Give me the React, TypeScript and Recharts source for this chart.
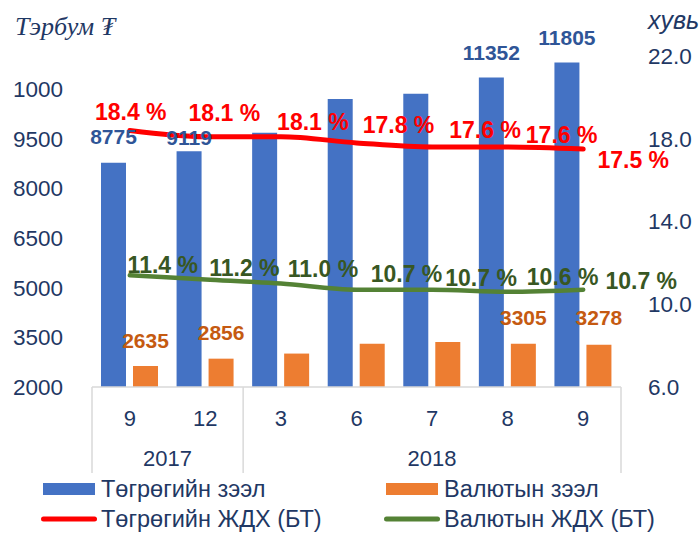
import React from 'react';
import { ComposedChart, Bar, Line, XAxis, YAxis, LabelList } from 'recharts';

// ---- data ----
const months = ['9', '12', '3', '6', '7', '8', '9'];
const years = ['2017', '2017', '2018', '2018', '2018', '2018', '2018'];
const mntLoans = [8775, 9119, 9680, 10700, 10860, 11352, 11805];
const fxLoans = [2635, 2856, 3010, 3310, 3360, 3305, 3278];
const mntRate = [18.4, 18.1, 18.1, 17.8, 17.6, 17.6, 17.5];
const fxRate = [11.4, 11.2, 11.0, 10.7, 10.7, 10.6, 10.7];
const leftTicks = [2000, 3500, 5000, 6500, 8000, 9500, 11000];
const leftTickLabels = ['2000', '3500', '5000', '6500', '8000', '9500', '1000'];
const rightTicks = [6, 10, 14, 18, 22];
const seriesNames = ['Төгрөгийн зээл', 'Валютын зээл', 'Төгрөгийн ЖДХ (БТ)', 'Валютын ЖДХ (БТ)'];
const leftUnit = 'Тэрбум ₮';
const rightUnit = 'хувь';
const labeledBars = [0, 1, 5, 6];

// ---- label nudges (style only) ----
const mntBarLift = [26, 14, 0, 0, 0, 25, 25];
const fxBarLift = [25, 26, 0, 0, 0, 26, 27];
const mntRateNudge = [[1, -18], [19, -24], [32, -15], [42, -18], [53, -17], [54, -12], [50, 11]];
const fxRateNudge = [[33, -10], [39, -11], [42, -15], [50, -16], [49, -12], [55, -15], [58, -9]];

const data = months.map((m, i) => ({
  key: `${years[i]}-${m}-${i}`,
  mnt: mntLoans[i],
  fx: fxLoans[i],
  mntRate: mntRate[i],
  fxRate: fxRate[i],
}));

const W = 699;
const H = 533;
const LEFT_W = 92;
const RIGHT_W = 78;
const TOP = 56;
const XAXIS_H = 146;
const BW = (W - LEFT_W - RIGHT_W) / months.length;
const FONT = '"Liberation Sans", Arial, sans-serif';
const NAVY = '#1F3864';
const GRID = '#D9D9D9';
const BLUE = '#4472C4';
const ORANGE = '#ED7D31';
const RED = '#FF0000';
const GREEN = '#548235';

const vbOf = (p: any) => {
  const vb = p.viewBox || {};
  return {
    x: vb.x ?? p.x,
    y: vb.y ?? p.y,
    width: vb.width ?? p.width ?? 0,
    height: vb.height ?? p.height ?? 0,
  };
};

const barLabel = (lift: number[], color: string) => (p: any) => {
  const i = p.index;
  if (!labeledBars.includes(i)) return null;
  const b = vbOf(p);
  return (
    <text
      x={b.x + b.width / 2}
      y={b.y - lift[i]}
      textAnchor="middle"
      dominantBaseline="central"
      fontFamily={FONT}
      fontWeight="bold"
      fontSize={21}
      fill={color}
    >
      {p.value}
    </text>
  );
};

const lineLabel = (nudge: number[][], color: string) => (p: any) => {
  const i = p.index;
  const b = vbOf(p);
  const v = typeof p.value === 'number' ? p.value : Number(p.value);
  return (
    <text
      x={b.x + nudge[i][0]}
      y={b.y + nudge[i][1]}
      textAnchor="middle"
      dominantBaseline="central"
      fontFamily={FONT}
      fontWeight="bold"
      fontSize={23}
      fill={color}
    >
      {`${v.toFixed(1)} %`}
    </text>
  );
};

function CatTick(props: any) {
  const { x, y, index } = props;
  const i = index;
  const els: any[] = [];
  els.push(
    <text key="m" x={x} y={y + 31} textAnchor="middle" dominantBaseline="central" fontFamily={FONT} fontSize={22} fill={NAVY}>
      {months[i]}
    </text>
  );
  if (i === 0 || years[i] !== years[i - 1]) {
    let n = 1;
    while (i + n < years.length && years[i + n] === years[i]) n++;
    els.push(<line key="s" x1={x - BW / 2} x2={x - BW / 2} y1={y} y2={y + 86} stroke={GRID} strokeWidth={1.5} />);
    els.push(
      <text key="y" x={x + ((n - 1) * BW) / 2} y={y + 71} textAnchor="middle" dominantBaseline="central" fontFamily={FONT} fontSize={22} fill={NAVY}>
        {years[i]}
      </text>
    );
  }
  if (i === months.length - 1) {
    els.push(<line key="e" x1={x + BW / 2} x2={x + BW / 2} y1={y} y2={y + 86} stroke={GRID} strokeWidth={1.5} />);
  }
  return <g>{els}</g>;
}

const legendItems = [
  { name: seriesNames[0], color: BLUE, kind: 'rect', x: 43, y: 489 },
  { name: seriesNames[1], color: ORANGE, kind: 'rect', x: 386, y: 489 },
  { name: seriesNames[2], color: RED, kind: 'line', x: 41, y: 519 },
  { name: seriesNames[3], color: GREEN, kind: 'line', x: 384, y: 519 },
];

export default function App() {
  return (
    <div style={{ position: 'absolute', left: 0, top: 0, width: W, height: H, background: '#fff', overflow: 'hidden' }}>
      <ComposedChart
        width={W}
        height={H}
        data={data}
        margin={{ top: TOP, right: 0, bottom: 0, left: 0 }}
        barSize={25}
        barGap={7}
      >
        <XAxis
          dataKey="key"
          xAxisId={0}
          interval={0}
          height={XAXIS_H}
          tickSize={0}
          tickMargin={0}
          tickLine={false}
          axisLine={{ stroke: GRID, strokeWidth: 1.5 }}
          tick={<CatTick />}
        />
        <YAxis
          yAxisId="left"
          orientation="left"
          width={LEFT_W}
          domain={[2000, 12000]}
          ticks={leftTicks}
          interval={0}
          axisLine={false}
          tickLine={false}
          tickSize={0}
          tickMargin={29}
          tickFormatter={(v: number) => leftTickLabels[leftTicks.indexOf(v)] ?? String(v)}
          tick={{ fontFamily: FONT, fontSize: 22.5, fill: NAVY }}
        />
        <YAxis
          yAxisId="right"
          orientation="right"
          width={RIGHT_W}
          domain={[6, 22]}
          ticks={rightTicks}
          interval={0}
          axisLine={false}
          tickLine={false}
          tickSize={0}
          tickMargin={27}
          tickFormatter={(v: number) => v.toFixed(1)}
          tick={{ fontFamily: FONT, fontSize: 22.5, fill: NAVY, textAnchor: 'start' }}
        />
        <Bar dataKey="mnt" yAxisId="left" fill={BLUE} isAnimationActive={false} name={seriesNames[0]}>
          <LabelList dataKey="mnt" content={barLabel(mntBarLift, '#2F5597')} />
        </Bar>
        <Bar dataKey="fx" yAxisId="left" fill={ORANGE} isAnimationActive={false} name={seriesNames[1]}>
          <LabelList dataKey="fx" content={barLabel(fxBarLift, '#C55A11')} />
        </Bar>
        <Line
          dataKey="mntRate"
          yAxisId="right"
          type="monotone"
          stroke={RED}
          strokeWidth={5}
          strokeLinecap="round"
          dot={false}
          activeDot={false}
          isAnimationActive={false}
          name={seriesNames[2]}
        >
          <LabelList dataKey="mntRate" content={lineLabel(mntRateNudge, RED)} />
        </Line>
        <Line
          dataKey="fxRate"
          yAxisId="right"
          type="monotone"
          stroke={GREEN}
          strokeWidth={4.5}
          strokeLinecap="round"
          dot={false}
          activeDot={false}
          isAnimationActive={false}
          name={seriesNames[3]}
        >
          <LabelList dataKey="fxRate" content={lineLabel(fxRateNudge, '#385723')} />
        </Line>
      </ComposedChart>
      <svg width={W} height={H} style={{ position: 'absolute', left: 0, top: 0, pointerEvents: 'none' }}>
        <text x={15} y={35} fontFamily={'"Liberation Serif", "Times New Roman", serif'} fontStyle="italic" fontSize={26} fill={NAVY}>
          {leftUnit}
        </text>
        <text x={648} y={29} fontFamily={FONT} fontStyle="italic" fontSize={25} fill={NAVY}>
          {rightUnit}
        </text>
        {legendItems.map((it) => (
          <g key={it.name}>
            {it.kind === 'rect' ? (
              <rect x={it.x} y={it.y - 6} width={52} height={12} fill={it.color} />
            ) : (
              <line x1={it.x + 2.5} x2={it.x + 53.5} y1={it.y} y2={it.y} stroke={it.color} strokeWidth={5} strokeLinecap="round" />
            )}
            <text x={it.x + (it.kind === 'rect' ? 58 : 60)} y={it.y} dominantBaseline="central" fontFamily={FONT} fontSize={23.5} fill={NAVY}>
              {it.name}
            </text>
          </g>
        ))}
      </svg>
    </div>
  );
}
